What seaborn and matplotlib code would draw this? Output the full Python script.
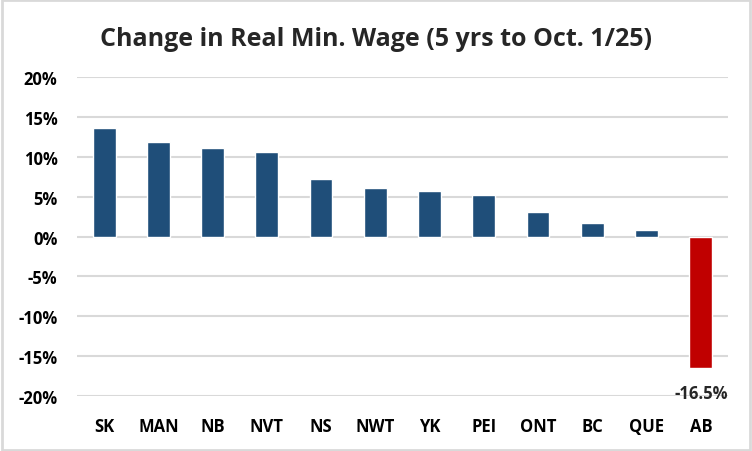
import pandas as pd
import matplotlib.pyplot as plt
import matplotlib.ticker as mticker
import seaborn as sns

provinces = ['SK', 'MAN', 'NB', 'NVT', 'NS', 'NWT', 'YK', 'PEI', 'ONT', 'BC', 'QUE', 'AB']
change_pct = [13.6, 11.8, 11.1, 10.6, 7.2, 6.1, 5.7, 5.2, 3.1, 1.7, 0.8, -16.5]
y_ticks = [-20, -15, -10, -5, 0, 5, 10, 15, 20]

df = pd.DataFrame({'prov': provinces, 'chg': change_pct})
df['grp'] = ['neg' if v < 0 else 'pos' for v in df['chg']]

sns.set_style('white')
plt.rcParams['font.family'] = ['Open Sans', 'DejaVu Sans']

fig = plt.figure(figsize=(7.52, 4.52), dpi=100)
ax = fig.add_axes([0.1024, 0.121, 0.8656, 0.707])

sns.barplot(data=df, x='prov', y='chg', hue='grp', dodge=False,
            palette={'pos': '#1F4E79', 'neg': '#C00000'}, saturation=1,
            width=0.42, legend=False, ax=ax, zorder=3)

ax.set_ylim(-20, 20)
ax.set_xlim(-0.5, len(provinces) - 0.5)
ax.set_yticks(y_ticks)
ax.yaxis.set_major_formatter(mticker.FuncFormatter(lambda v, p: f'{v:.0f}%'))
ax.grid(axis='y', color='#d9d9d9', linewidth=1.5, zorder=0)
for s in ax.spines.values():
    s.set_visible(False)
ax.tick_params(axis='both', length=0, labelsize=12, labelcolor='black')
ax.tick_params(axis='x', pad=15)
ax.tick_params(axis='y', pad=14)
for lbl in ax.get_xticklabels() + ax.get_yticklabels():
    lbl.set_fontweight('bold')
ax.set_xlabel('')
ax.set_ylabel('')

# data label for the only negative bar
ab = provinces.index('AB')
ax.text(ab, change_pct[ab] - 2.0, f'{change_pct[ab]:.1f}%', ha='center', va='top',
        fontsize=12, fontweight='bold')

fig.text(0.5, 0.912, 'Change in Real Min. Wage (5 yrs to Oct. 1/25)',
         ha='center', va='center', fontsize=18, fontweight='bold')

# light frame around the chart
fig.patches.append(plt.Rectangle((0.002, 0.002), 0.996, 0.996, transform=fig.transFigure,
                                 fill=False, edgecolor='#d9d9d9', linewidth=2))

fig.savefig('out.png', dpi=100)
